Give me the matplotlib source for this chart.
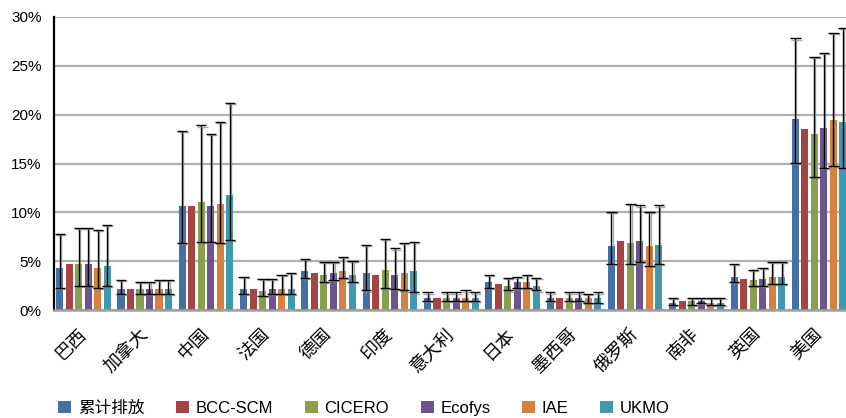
import matplotlib
matplotlib.use("Agg")
import matplotlib.pyplot as plt
import matplotlib.patheffects as pe
from matplotlib.patches import Patch
import numpy as np

plt.rcParams['font.family'] = ['Liberation Sans', 'Noto Sans CJK SC', 'DejaVu Sans']

countries = ['巴西', '加拿大', '中国', '法国', '德国', '印度', '意大利', '日本', '墨西哥', '俄罗斯', '南非', '英国', '美国']
series = ['累计排放', 'BCC-SCM', 'CICERO', 'Ecofys', 'IAE', 'UKMO']
colors = ['#4470A5', '#A44443', '#88A04E', '#6D548E', '#D6813E', '#4197AD']

# values in %
cum_emis = [4.3, 2.1, 10.6, 2.15, 4.0, 3.8, 1.2, 2.85, 1.2, 6.55, 0.7, 3.4, 19.55]
bcc_scm  = [4.7, 2.1, 10.6, 2.15, 3.8, 3.6, 1.2, 2.65, 1.2, 7.05, 0.9, 3.2, 18.5]
cicero   = [4.7, 2.1, 11.05, 1.95, 3.6, 4.1, 1.2, 2.45, 1.2, 6.85, 0.9, 3.05, 18.0]
ecofys   = [4.7, 2.1, 10.6, 2.15, 3.8, 3.6, 1.2, 2.85, 1.2, 7.05, 0.9, 3.2, 18.6]
iae      = [4.3, 2.1, 10.85, 2.15, 4.0, 3.8, 1.2, 2.85, 1.25, 6.55, 0.7, 3.4, 19.45]
ukmo     = [4.5, 2.1, 11.8, 2.15, 3.6, 4.0, 1.2, 2.45, 1.25, 6.65, 0.7, 3.4, 19.25]

# error ranges (lower, upper) in %; BCC-SCM has none
cum_lo = [2.3, 1.6, 6.9, 1.6, 3.25, 2.0, 0.9, 2.3, 0.9, 4.7, 0.5, 2.85, 15.1]
cum_hi = [7.8, 3.1, 18.35, 3.4, 5.25, 6.7, 1.8, 3.6, 1.8, 10.0, 1.25, 4.7, 27.8]
cic_lo = [2.5, 1.6, 7.0, 1.45, 2.85, 2.3, 0.9, 2.0, 0.9, 4.7, 0.5, 2.5, 13.6]
cic_hi = [8.4, 2.9, 18.9, 3.2, 4.9, 7.25, 1.8, 3.25, 1.8, 10.9, 1.25, 4.1, 25.9]
eco_lo = [2.5, 1.6, 7.0, 1.6, 3.05, 2.15, 0.9, 2.3, 0.9, 4.9, 0.7, 2.5, 14.5]
eco_hi = [8.4, 2.9, 18.0, 3.2, 4.9, 6.3, 1.8, 3.4, 1.8, 10.7, 1.25, 4.35, 26.35]
iae_lo = [2.3, 1.6, 6.9, 1.6, 3.25, 2.0, 0.9, 2.3, 0.7, 4.5, 0.5, 2.7, 14.75]
iae_hi = [8.2, 3.1, 19.25, 3.6, 5.4, 6.9, 2.0, 3.6, 1.6, 10.0, 1.25, 4.9, 28.35]
ukm_lo = [2.5, 1.6, 7.2, 1.6, 2.85, 1.8, 0.9, 2.0, 0.7, 4.7, 0.5, 2.7, 14.5]
ukm_hi = [8.7, 3.1, 21.2, 3.8, 5.05, 7.0, 1.8, 3.25, 1.8, 10.7, 1.25, 4.9, 28.9]

values = [cum_emis, bcc_scm, cicero, ecofys, iae, ukmo]
lows = [cum_lo, None, cic_lo, eco_lo, iae_lo, ukm_lo]
highs = [cum_hi, None, cic_hi, eco_hi, iae_hi, ukm_hi]
yticks = [0, 5, 10, 15, 20, 25, 30]

fig = plt.figure(figsize=(8.46, 4.18), dpi=100)
ax = fig.add_axes([54/846, 108/418, 797/846, 293/418])

x = np.arange(len(countries))
pitch = 0.155
width = 0.115
shadow = [pe.SimpleLineShadow(offset=(0.8, -0.8), shadow_color='#888888', alpha=0.7), pe.Normal()]

for i, (name, vals, col) in enumerate(zip(series, values, colors)):
    xs = x + (i - 2.5) * pitch
    v = np.array(vals)
    ax.bar(xs, v, width=width, color=col, label=name, zorder=2)
    if lows[i] is not None:
        lo = np.array(lows[i]); hi = np.array(highs[i])
        eb = ax.errorbar(xs, v, yerr=[v - lo, hi - v], fmt='none', ecolor='black',
                         elinewidth=1.0, capsize=3.7, capthick=1.0, zorder=3)
        for art in list(eb.lines[1]) + list(eb.lines[2]):
            art.set_path_effects(shadow)

ax.set_xlim(-0.48, 12.52)
ax.set_ylim(0, 30)
ax.set_yticks(yticks)
ax.set_yticklabels([f'{t}%' for t in yticks], fontsize=11)
ax.yaxis.grid(True, color='#B0B0B0', linewidth=1.6, zorder=0)
ax.set_axisbelow(True)
ax.tick_params(axis='y', length=0, pad=9)
ax.tick_params(axis='x', length=0, pad=6)
ax.set_xticks(x)
ax.set_xticklabels(countries, rotation=45, ha='right', va='center', rotation_mode='anchor',
                   fontsize=13, family=['Noto Sans CJK SC', 'DejaVu Sans'])
for lab in ax.get_xticklabels():
    lab.set_x(lab.get_position()[0])
    lab.set_y(-0.045)

for s in ['top', 'right']:
    ax.spines[s].set_visible(False)
ax.spines['left'].set_color('black')
ax.spines['left'].set_linewidth(1.6)
ax.spines['bottom'].set_color('#A0A0A0')
ax.spines['bottom'].set_linewidth(1.8)

handles = [Patch(facecolor=c, edgecolor='none') for c in colors]
fig.legend(handles, series, loc='center', bbox_to_anchor=(364/846, 10/418), ncol=6,
           frameon=False, fontsize=12, handlelength=0.78, handleheight=0.78,
           handletextpad=0.4, columnspacing=1.9, borderaxespad=0, borderpad=0)

fig.savefig('out.png', dpi=100)
